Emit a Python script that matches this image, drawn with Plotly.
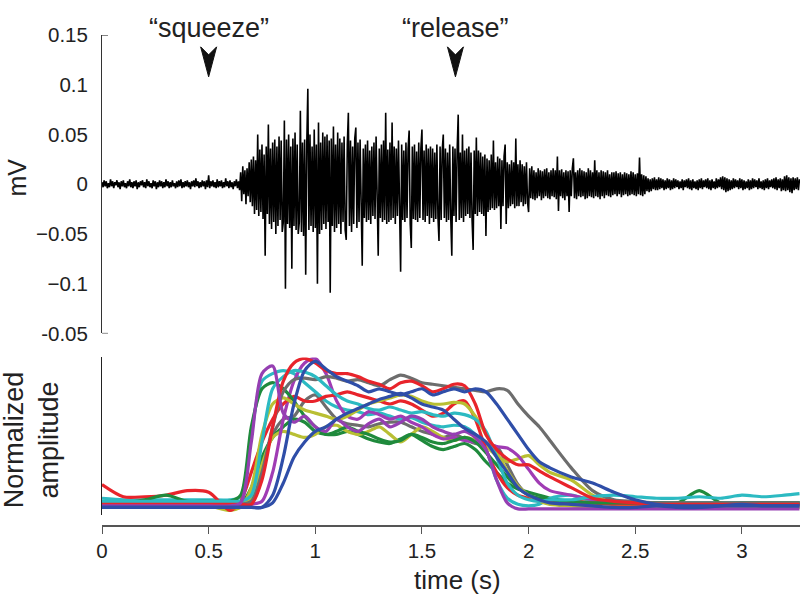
import plotly.graph_objects as go

# ---------------- top panel: raw EMG (values in microvolts, sampled every 5 ms) -------------
emg_dt = 0.005
emg_uV = [
    2, -3, 4, -2, 3, -4, 1, -3, 5, -2,
    3, -4, 2, -1, 4, -3, 2, -5, 3, -2,
    4, -3, 1, -4, 3, -2, 5, -3, 2, -4,
    3, -2, 4, -5, 2, -3, 3, -1, 4, -3,
    2, -4, 5, -2, 3, -3, 1, -4, 4, -2,
    3, -5, 2, -3, 4, -2, 3, -4, 2, -3,
    5, -2, 3, -4, 2, -3, 4, -2, 1, -4,
    3, -3, 4, -2, 5, -4, 2, -3, 3, -2,
    4, -3, 2, -5, 3, -2, 4, -3, 6, -2,
    3, -4, 2, -3, 4, -2, 3, -5, 4, -3,
    9, -4, 3, -2, 4, -3, 2, -4, 5, -3,
    3, -2, 4, -4, 2, -3, 6, -2, 3, -4,
    4, -3, 2, -5, 3, -2, 5, -4, 3, -6,
    12, -17, 18, -10, 14, -20, 16, -12, 22, -18,
    25, -22, 28, -30, 24, -26, 50, -32, 35, -28,
    40, -35, 30, -72, 38, -30, 60, -40, 36, -45,
    42, -38, 45, -50, 38, -42, 48, -36, 44, -48,
    -38, 64, -105, 45, -40, 50, -44, 38, -85, 46,
    -42, 52, -46, 40, -50, -38, 74, -48, 42, -52,
    45, -91, 40, 96, -46, 50, -42, 38, -48, 55,
    -44, 40, -100, 62, -50, 42, -46, 52, -40, 48,
    -45, 50, -38, 44, -109, 46, -42, 58, -48, 40,
    -44, 52, -40, 46, -50, 42, -38, 48, -46, -56,
    40, 72, -42, 44, -48, 38, -40, 46, 57, -44,
    42, -38, 45, -40, -82, 36, -34, 40, -38, 44,
    -36, 34, -40, 38, -32, 42, -35, 48, -38, -72,
    36, -34, 40, -38, 44, -36, 72, -40, 35, -38,
    42, -36, 62, -34, 38, -40, 36, -32, 44, -38,
    -88, 40, -36, 34, -38, 42, -34, 36, 54, -40,
    -64, 38, -35, 40, -36, 33, -38, 42, -34, 36,
    55, -36, 34, -38, 40, -32, 36, -40, 38, -34,
    36, -38, 32, -35, 40, -33, -57, 38, -36, 34,
    50, -34, 36, -38, 32, -36, 40, -34, -72, 38,
    -32, 36, -38, 34, 70, -36, 32, -34, 50, -38,
    34, -32, 36, -30, 38, -34, 32, -36, -66, 34,
    -30, 47, -32, 34, -28, 32, -30, 28, -32, 30,
    -52, 26, -28, 24, -26, 30, -24, 44, -26, 22,
    -24, 28, -22, 26, -45, 24, -22, 28, 40, -40,
    22, -24, 20, -22, 24, -20, 22, -24, 46, -22,
    20, -22, 24, -18, 20, -22, 18, -20, 22, -18,
    -28, 16, -14, 18, -15, 14, -16, 12, -14, 16,
    -12, 14, -16, 13, -14, 15, -12, 16, -14, 12,
    -15, 14, -12, 16, -13, 14, -15, 28, -27, 14,
    -12, 15, -14, 12, -16, 14, -12, 13, -28, 14,
    -12, 16, 26, -14, 12, -15, 14, -12, 16, -13,
    14, -12, 13, -15, 12, -14, 16, -12, 14, -13,
    12, -14, 24, -12, 14, -13, 12, -15, 14, -12,
    13, -14, 12, -11, 14, -12, 10, -13, 12, -11,
    12, -10, 13, -12, 11, -10, 12, -13, 10, -11,
    12, -10, 11, -12, 10, -11, 13, -10, 12, -11,
    10, -12, 11, -10, 27, -11, 10, -12, 9, -10,
    8, -7, 6, -8, 5, -7, 6, -5, 7, -6,
    5, -6, 7, -5, 6, -4, 5, -6, 4, -5,
    6, -4, 5, -6, 4, -5, 6, -4, 5, -3,
    4, -5, 3, -4, 5, -6, 4, -3, 5, -4,
    6, -5, 4, -6, 5, -4, 3, -5, 4, -6,
    5, -4, 6, -5, 4, -3, 5, -4, 6, -5,
    4, -6, 5, -4, 3, -5, 6, -4, 5, -3,
    7, -5, 8, -6, 7, -8, 6, -7, 5, -6,
    4, -5, 6, -4, 5, -3, 4, -5, 6, -4,
    5, -6, 4, -5, 3, -4, 5, -6, 4, -5,
    6, -4, 5, -3, 4, -5, 6, -4, 3, -5,
    4, -6, 5, -4, 6, -5, 4, -3, 5, -4,
    6, -5, 7, -6, 5, -4, 6, -7, 5, -6,
    8, -7, 9, -6, 7, -8, 6, -9, 7, -6,
    6, -5, 7, -6, 5,
]
emg_t = [i * emg_dt for i in range(len(emg_uV))]
emg_mV = [v / 1000.0 for v in emg_uV]

top_tick_vals = [0.15, 0.1, 0.05, 0, -0.05, -0.1, -0.15]
top_tick_text = ["0.15", "0.1", "0.05", "0", "\u22120.05", "\u22120.1", "-0.05"]

cue_labels = ["\u201csqueeze\u201d", "\u201crelease\u201d"]
cue_times = [0.5, 1.657]

# ---------------- bottom panel: normalized amplitude envelopes ----------------
env_t = [0, 0.1, 0.2, 0.3, 0.4, 0.5, 0.6, 0.65, 0.7, 0.75, 0.8, 0.85, 0.9, 0.95,
         1.0, 1.05, 1.1, 1.15, 1.2, 1.25, 1.3, 1.35, 1.4, 1.45, 1.5, 1.55, 1.6,
         1.65, 1.7, 1.75, 1.8, 1.85, 1.9, 1.95, 2.0, 2.05, 2.1, 2.2, 2.3, 2.4,
         2.5, 2.6, 2.7, 2.8, 2.9, 3.0, 3.1, 3.2, 3.27]

env_purple1 = [0.03] * 7 + [0.05, 0.45, 0.9, 0.95, 0.64, 0.58, 0.62, 0.55, 0.52, 0.6, 0.55,
               0.52, 0.57, 0.6, 0.55, 0.58, 0.62, 0.6, 0.55, 0.52, 0.5, 0.52, 0.48, 0.4,
               0.2, 0.05, 0.01, 0.01] + [0.01] * 14
env_purple2 = [0.04] * 9 + [0.06, 0.25, 0.6, 0.85, 0.97, 1.0, 0.9, 0.72, 0.62, 0.6, 0.65,
               0.63, 0.6, 0.62, 0.58, 0.55, 0.5, 0.47, 0.48, 0.46, 0.45, 0.44, 0.42, 0.41,
               0.36, 0.27, 0.18, 0.13, 0.1, 0.07, 0.05] + [0.04] * 9
env_cyan1 = [0.08, 0.07, 0.07, 0.07, 0.07, 0.07, 0.07] + [0.09, 0.5, 0.85, 0.9, 0.92, 0.9,
             0.84, 0.78, 0.72, 0.68, 0.66, 0.65, 0.63, 0.64, 0.62, 0.6, 0.61, 0.58, 0.56,
             0.55, 0.56, 0.55, 0.5, 0.4, 0.2, 0.08, 0.04, 0.03, 0.04, 0.08, 0.1, 0.06,
             0.05] + [0.05] * 9
env_cyan2 = [0.06] * 8 + [0.1, 0.45, 0.8, 0.88, 0.92, 0.91, 0.88, 0.82, 0.76, 0.72, 0.7,
             0.67, 0.66, 0.68, 0.66, 0.64, 0.65, 0.63, 0.62, 0.64, 0.63, 0.6, 0.52, 0.35,
             0.18, 0.1, 0.07, 0.06, 0.07, 0.07, 0.09, 0.1, 0.09, 0.08, 0.08, 0.09, 0.08,
             0.1, 0.09, 0.1, 0.11]
env_green1 = [0.05, 0.05, 0.07, 0.1, 0.06, 0.06, 0.06, 0.1, 0.55, 0.8, 0.84, 0.8, 0.72,
              0.62, 0.55, 0.5, 0.52, 0.55, 0.52, 0.5, 0.47, 0.45, 0.46, 0.5, 0.48, 0.45,
              0.44, 0.46, 0.48, 0.45, 0.38, 0.3, 0.22, 0.15, 0.1, 0.08, 0.07, 0.06, 0.05,
              0.05, 0.05, 0.05, 0.05, 0.13, 0.05, 0.05, 0.05, 0.05, 0.05]
env_green2 = [0.04] * 8 + [0.15, 0.35, 0.48, 0.55, 0.6, 0.58, 0.52, 0.5, 0.5, 0.52, 0.5,
              0.47, 0.45, 0.44, 0.47, 0.5, 0.46, 0.42, 0.4, 0.42, 0.44, 0.4, 0.32, 0.25,
              0.18, 0.14, 0.12, 0.1, 0.08, 0.06] + [0.05] * 11
env_gray1 = [0.04] * 8 + [0.06, 0.25, 0.55, 0.78, 0.86, 0.87, 0.86, 0.88, 0.87, 0.85, 0.86,
             0.84, 0.82, 0.86, 0.89, 0.87, 0.84, 0.83, 0.82, 0.81, 0.8, 0.79, 0.78, 0.8,
             0.79, 0.7, 0.62, 0.55, 0.46, 0.28, 0.13, 0.07, 0.06] + [0.05] * 8
env_gray2 = [0.04] * 8 + [0.1, 0.3, 0.5, 0.6, 0.62, 0.72, 0.76, 0.68, 0.6, 0.57, 0.56,
             0.55, 0.57, 0.58, 0.58, 0.55, 0.52, 0.5, 0.48, 0.5, 0.47, 0.44, 0.43, 0.42,
             0.3, 0.17, 0.1, 0.08, 0.07, 0.06] + [0.05] * 11
env_blue1 = [0.02] * 10 + [0.1, 0.35, 0.7, 0.92, 0.98, 0.93, 0.88, 0.85, 0.82, 0.78, 0.8,
             0.78, 0.76, 0.78, 0.8, 0.76, 0.78, 0.8, 0.78, 0.8, 0.78, 0.7, 0.6, 0.5, 0.4,
             0.32, 0.28, 0.22, 0.18, 0.12, 0.07, 0.04] + [0.03] * 7
env_blue2 = [0.02] * 10 + [0.05, 0.18, 0.35, 0.45, 0.52, 0.55, 0.6, 0.64, 0.67, 0.7, 0.73,
             0.75, 0.77, 0.74, 0.7, 0.68, 0.66, 0.6, 0.54, 0.5, 0.45, 0.35, 0.25, 0.15,
             0.1, 0.07, 0.05, 0.04, 0.03, 0.02, 0.02, 0.03, 0.02, 0.02, 0.03, 0.04, 0.03,
             0.03, 0.03]
env_yellow1 = [0.02] * 8 + [0.15, 0.5, 0.7, 0.74, 0.7, 0.66, 0.64, 0.62, 0.6, 0.62, 0.66,
               0.7, 0.72, 0.74, 0.76, 0.75, 0.72, 0.7, 0.7, 0.71, 0.7, 0.62, 0.5, 0.38,
               0.26, 0.16, 0.1, 0.06, 0.04, 0.03] + [0.02] * 11
env_yellow2 = [0.03, 0.03, 0.03, 0.03, 0.03, 0.03, 0.0, 0.02, 0.08, 0.3, 0.48, 0.52, 0.5,
               0.48, 0.5, 0.55, 0.56, 0.52, 0.5, 0.52, 0.55, 0.5, 0.45, 0.5, 0.55, 0.52,
               0.48, 0.46, 0.48, 0.46, 0.42, 0.36, 0.32, 0.34, 0.36, 0.3, 0.25, 0.2, 0.1,
               0.05, 0.03] + [0.02] * 8
env_red1 = [0.04] * 9 + [0.2, 0.55, 0.85, 0.97, 1.0, 0.97, 0.92, 0.9, 0.9, 0.88, 0.85,
            0.83, 0.8, 0.84, 0.85, 0.82, 0.78, 0.8, 0.83, 0.82, 0.7, 0.5, 0.4, 0.34, 0.3,
            0.3, 0.26, 0.22, 0.15, 0.08, 0.06, 0.05] + [0.04] * 8
env_red2 = [0.17, 0.09, 0.09, 0.1, 0.13, 0.12, 0.0, 0.06, 0.25, 0.45, 0.6, 0.7, 0.75, 0.72,
            0.72, 0.75, 0.76, 0.78, 0.76, 0.74, 0.72, 0.7, 0.72, 0.7, 0.66, 0.62, 0.64,
            0.7, 0.72, 0.6, 0.4, 0.25, 0.15, 0.1, 0.08, 0.06, 0.05, 0.06, 0.05] + [0.04] * 10

bottom_tick_vals = [0, 0.5, 1, 1.5, 2, 2.5, 3]
bottom_tick_text = ["0", "0.5", "1", "1.5", "2", "2.5", "3"]

envelopes = [
    ("gray", env_gray2, "#6d6d6d"),
    ("green", env_green2, "#1f8a3c"),
    ("yellow", env_yellow2, "#b9bf33"),
    ("cyan", env_cyan1, "#2cbac2"),
    ("purple", env_purple2, "#a03cb4"),
    ("red", env_red2, "#e8242b"),
    ("green", env_green1, "#1f8a3c"),
    ("yellow", env_yellow1, "#b9bf33"),
    ("gray", env_gray1, "#6d6d6d"),
    ("cyan", env_cyan2, "#2cbac2"),
    ("red", env_red1, "#e8242b"),
    ("purple", env_purple1, "#953fb2"),
    ("blue", env_blue2, "#2f4ea8"),
    ("blue", env_blue1, "#2f4ea8"),
]
for _, vals, _c in envelopes:
    assert len(vals) == len(env_t), len(vals)

FONT = "Liberation Sans, Arial, Helvetica, sans-serif"
W, H = 800, 610
ML = 102
X_MAX = (W - ML) / 213.3

fig = go.Figure()
fig.add_trace(go.Scatter(x=emg_t, y=emg_mV, mode="lines",
                         line=dict(color="black", width=1.6),
                         xaxis="x", yaxis="y", showlegend=False, hoverinfo="skip"))
for name, vals, col in envelopes:
    fig.add_trace(go.Scatter(x=env_t, y=vals, mode="lines", name=name,
                             line=dict(color=col, width=3.2, shape="spline", smoothing=0.8),
                             xaxis="x2", yaxis="y2", showlegend=False))

def py(p):
    return (H - p) / H

def px(p):
    return (p - ML) / (W - ML)

TXT = "#222"
fig.update_layout(
    width=W, height=H,
    margin=dict(l=ML, r=0, t=0, b=0),
    paper_bgcolor="white", plot_bgcolor="white",
    font=dict(family=FONT, color=TXT),
    xaxis=dict(domain=[0, 1], range=[0, X_MAX], visible=False, anchor="y"),
    yaxis=dict(domain=[py(334), py(24)], range=[-0.15, 0.15], anchor="x",
               showline=True, linecolor="#333", linewidth=1,
               tickvals=top_tick_vals, ticktext=top_tick_text,
               ticks="outside", ticklen=9, tickcolor="rgba(0,0,0,0)",
               tickfont=dict(size=20.5, family=FONT, color=TXT),
               showgrid=False, zeroline=False),
    xaxis2=dict(domain=[0, 1], range=[0, X_MAX], anchor="free", position=py(534),
                showline=True, linecolor="#555", linewidth=1.5,
                tickvals=bottom_tick_vals, ticktext=bottom_tick_text,
                ticks="outside", ticklen=7, tickcolor="#555", tickwidth=1,
                tickfont=dict(size=20.5, family=FONT, color=TXT),
                showgrid=False, zeroline=False),
    yaxis2=dict(domain=[py(523), py(359)], range=[-0.032, 1.006], anchor="x2",
                showline=True, linecolor="#222", linewidth=1,
                showticklabels=False, ticks="", showgrid=False, zeroline=False),
)

ann = []
ann.append(dict(text="mV", x=px(17), y=py(172), xref="paper", yref="paper",
                textangle=-90, showarrow=False, font=dict(size=25, family=FONT, color=TXT),
                xanchor="center", yanchor="middle"))
ann.append(dict(text="Normalized<br>amplitude", x=px(31), y=py(445),
                xref="paper", yref="paper", textangle=-90, showarrow=False,
                font=dict(size=27, family=FONT, color=TXT),
                xanchor="center", yanchor="middle"))
ann.append(dict(text="time (s)", x=px(457), y=py(590), xref="paper",
                yref="paper", showarrow=False, font=dict(size=26, family=FONT, color=TXT),
                xanchor="center", yanchor="middle"))
for lab, tc in zip(cue_labels, cue_times):
    ann.append(dict(text=lab, x=tc, y=py(17), xref="x", yref="paper", showarrow=False,
                    font=dict(size=27, family=FONT, color=TXT),
                    xanchor="center", yanchor="middle"))
fig.update_layout(annotations=ann)

shapes = []
for tc in cue_times:
    shapes.append(dict(type="path", xref="x", yref="y", xsizemode="pixel", ysizemode="pixel",
                       xanchor=tc, yanchor=0.108,
                       path="M0,0 L-8,30 L0,22 L8,30 Z",
                       fillcolor="#111", line=dict(color="#111", width=1)))
for yv in (0.15, -0.15):
    shapes.append(dict(type="line", xref="x", yref="y", xsizemode="pixel", xanchor=0,
                       x0=0, x1=6, y0=yv, y1=yv, line=dict(color="#333", width=1)))
fig.update_layout(shapes=shapes)

fig.write_html("out.html", config={"displayModeBar": False},
               post_script="document.body.style.margin='0px';document.body.style.padding='0px';")
